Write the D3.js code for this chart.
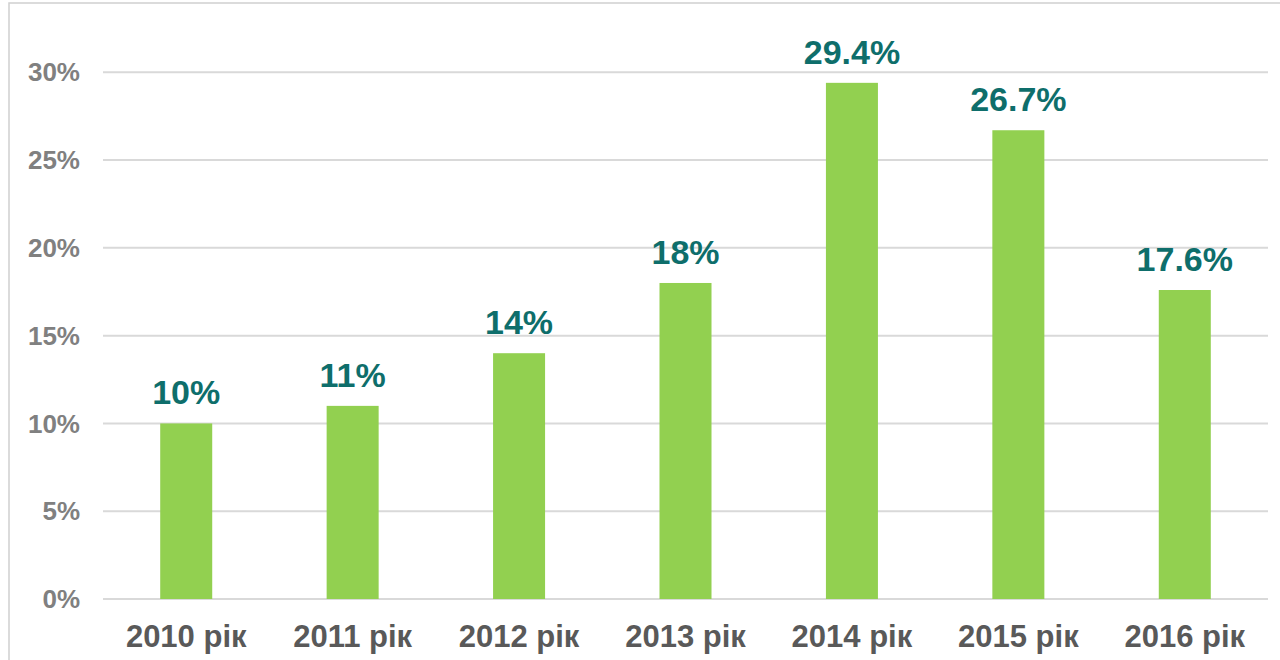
<!DOCTYPE html>
<html><head><meta charset="utf-8">
<script src="https://cdn.jsdelivr.net/npm/d3@7"></script>
<style>body{margin:0;background:#fff;} svg{display:block;font-family:"Liberation Sans",Arial,sans-serif;}</style>
</head><body>
<svg id="c" width="1280" height="660"></svg>
<script>
const categories = ["2010 рік","2011 рік","2012 рік","2013 рік","2014 рік","2015 рік","2016 рік"];
const values = [10, 11, 14, 18, 29.4, 26.7, 17.6];
const labels = ["10%","11%","14%","18%","29.4%","26.7%","17.6%"];
const ticks = [0,5,10,15,20,25,30];

const svg = d3.select("#c");
svg.append("rect").attr("x",9).attr("y",3).attr("width",1290).attr("height",700)
  .attr("fill","none").attr("stroke","#d0d0d0").attr("stroke-width",1.5);

const x = d3.scaleBand().domain(categories).range([103,1268]).paddingInner(0.6875).paddingOuter(0.34375);
const y = d3.scaleLinear().domain([0,30]).range([599,72.3]);

const g = svg.append("g");
g.selectAll("line.grid").data(ticks).enter().append("line")
  .attr("x1",103).attr("x2",1268).attr("y1",d=>y(d)).attr("y2",d=>y(d))
  .attr("stroke","#d9d9d9").attr("stroke-width",2);

g.selectAll("text.tick").data(ticks).enter().append("text")
  .attr("x",80).attr("y",d=>y(d)).attr("dy","0.35em").attr("text-anchor","end")
  .attr("font-size",26).attr("font-weight","bold").attr("fill","#808080")
  .text(d=>d+"%");

g.selectAll("rect.bar").data(values).enter().append("rect")
  .attr("x",(d,i)=>x(categories[i])).attr("width",x.bandwidth())
  .attr("y",d=>y(d)).attr("height",d=>y(0)-y(d)).attr("fill","#92D050");

g.selectAll("text.val").data(values).enter().append("text")
  .attr("x",(d,i)=>x(categories[i])+x.bandwidth()/2).attr("y",d=>y(d)-19)
  .attr("text-anchor","middle").attr("font-size",34).attr("font-weight","bold").attr("fill","#0E6E6B")
  .text((d,i)=>labels[i]);

g.selectAll("text.cat").data(categories).enter().append("text")
  .attr("x",d=>x(d)+x.bandwidth()/2).attr("y",647)
  .attr("text-anchor","middle").attr("font-size",31).attr("font-weight","bold").attr("fill","#595959")
  .text(d=>d);
</script>
</body></html>
